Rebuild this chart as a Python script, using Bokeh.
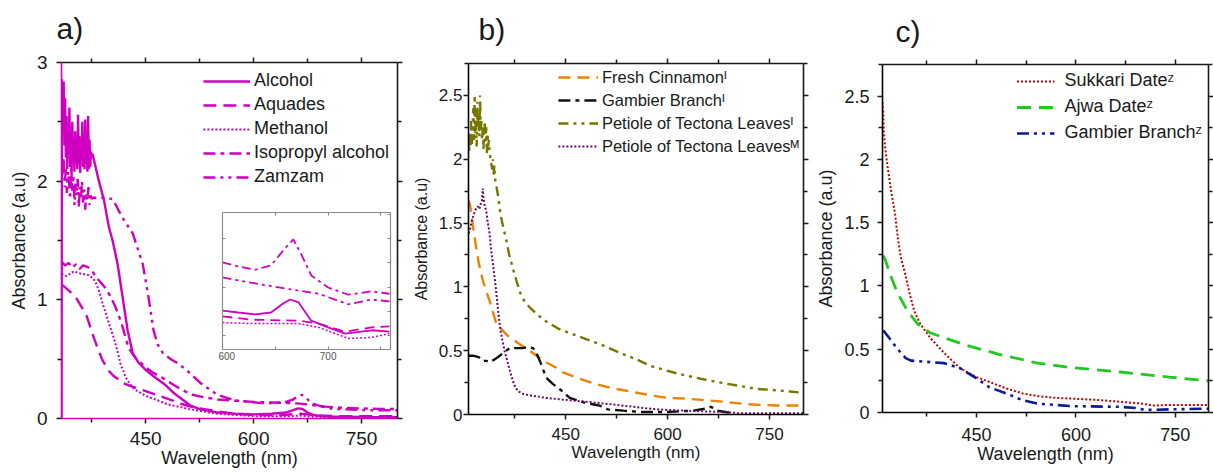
from bokeh.plotting import figure
from bokeh.models import LinearAxis, FixedTicker, CustomJSTickFormatter
from bokeh.embed import file_html
from bokeh.resources import INLINE

FONT = "Liberation Sans"
MAG = "#D000C0"

# ---------------- panel a data ----------------
a_alcohol_nm = [333, 333.5, 335, 336, 337, 338, 339, 340, 341, 342, 343, 344, 345, 346, 347, 348, 349, 350,
                351, 352, 353, 354, 355, 356, 357, 358, 359, 360, 361, 362, 363, 364, 365, 366, 367, 368,
                369, 370, 371, 372, 373, 374, 375, 376,
                378, 385, 392, 399, 404, 411, 418, 425, 432, 440, 450, 460, 478, 490, 501, 512, 525, 550,
                575, 600, 625, 645, 655, 662, 668, 675, 683, 695, 711, 730, 760, 800]
a_alcohol = [0, 2.86, 2.6, 2.84, 2.3, 2.7, 2.2, 2.55, 2.1, 2.45, 2.25, 2.62,
             2.12, 2.4, 2.05, 2.5, 2.18, 2.35, 2.08, 2.42, 2.2, 2.3,
             2.1, 2.56, 2.15, 2.38, 2.07, 2.33, 2.2, 2.5, 2.12, 2.28,
             2.1, 2.52, 2.15, 2.3, 2.08, 2.55, 2.1, 2.35, 2.12, 2.25, 2.2, 2.23,
             2.18, 2.0, 1.84, 1.61, 1.5, 1.3, 1.02, 0.74, 0.55, 0.47, 0.41, 0.36, 0.28, 0.21, 0.16,
             0.11, 0.08, 0.05, 0.04, 0.035, 0.04, 0.05, 0.07, 0.085, 0.08, 0.05, 0.03, 0.02, 0.015,
             0.015, 0.012, 0.012]

a_aquades_nm = [333, 343, 353, 360, 367, 372, 378, 384, 390, 395, 399, 405, 412, 418, 430, 446, 460, 474,
                488, 501, 520, 550, 575, 600, 640, 665, 690, 720, 760, 800]
a_aquades = [1.13, 1.08, 1.02, 0.95, 0.88, 0.79, 0.68, 0.58, 0.49, 0.44, 0.4, 0.36, 0.33, 0.3, 0.27, 0.24,
             0.21, 0.18, 0.15, 0.12, 0.09, 0.06, 0.04, 0.03, 0.03, 0.04, 0.025, 0.02, 0.02, 0.02]

a_methanol_nm = [333, 340, 350, 360, 370, 377, 381, 386, 390, 395, 399, 404, 408, 412, 415, 419, 422, 428,
                 436, 450, 464, 480, 510, 550, 600, 650, 665, 680, 720, 760, 800]
a_methanol = [1.22, 1.2, 1.24, 1.22, 1.21, 1.18, 1.14, 1.06, 0.97, 0.88, 0.8, 0.71, 0.63, 0.54, 0.46, 0.4,
              0.35, 0.29, 0.24, 0.19, 0.16, 0.12, 0.08, 0.04, 0.02, 0.02, 0.025, 0.015, 0.01, 0.01, 0.01]

a_isopropyl_nm = [333, 338, 343, 348, 353, 358, 363, 368, 371, 376, 381, 387, 394, 401, 408, 413, 418, 422,
                  426, 431, 436, 443, 450, 462, 474, 487, 501, 515, 530, 550, 575, 600, 625, 650, 665, 680,
                  700, 725, 750, 775, 800]
a_isopropyl = [1.32, 1.29, 1.31, 1.27, 1.3, 1.26, 1.29, 1.28, 1.27, 1.24, 1.19, 1.15, 1.1, 1.03, 0.94, 0.86,
               0.77, 0.68, 0.6, 0.55, 0.51, 0.47, 0.43, 0.38, 0.34, 0.29, 0.24, 0.2, 0.18, 0.16, 0.15, 0.14,
               0.135, 0.13, 0.125, 0.115, 0.1, 0.09, 0.085, 0.08, 0.08]

a_zamzam_nm = [333, 334.5, 336, 337.5, 339, 340.5, 342, 343.5, 345, 346.5, 348, 349.5, 351, 352.5, 354,
               355.5, 357, 358.5, 360, 361.5, 363, 364.5, 366, 367.5, 369, 370.5, 372, 373.5, 375, 376.5,
               381, 390, 404, 418, 432, 446, 454, 461, 467, 474, 485, 496, 510, 526, 540, 550, 565, 578,
               595, 610, 630, 645, 655, 662, 667, 672, 680, 695, 711, 735, 758, 780, 800]
a_zamzam = [2.15, 2.05, 2.2, 1.95, 2.12, 1.9, 2.08, 2.0, 1.85, 2.1, 1.92, 2.05, 1.8, 1.98, 1.88, 2.02, 1.78,
            1.95, 1.85, 2.0, 1.82, 1.93, 1.76, 1.9, 1.84, 1.95, 1.8, 1.88, 1.85, 1.86,
            1.86, 1.86, 1.85, 1.69, 1.56, 1.3, 1.02, 0.74, 0.62, 0.55, 0.5, 0.46, 0.39, 0.3, 0.24, 0.2,
            0.17, 0.15, 0.14, 0.13, 0.13, 0.14, 0.16, 0.19, 0.2, 0.18, 0.13, 0.1, 0.08, 0.075, 0.07, 0.07,
            0.07]

# inset (600-760 nm zoom of panel a)
in_zamzam_nm = [600, 615, 631, 646, 659, 667, 675, 684, 700, 719, 741, 758]
in_zamzam = [0.201, 0.193, 0.186, 0.195, 0.23, 0.249, 0.216, 0.174, 0.149, 0.134, 0.141, 0.136]
in_isopropyl_nm = [600, 627, 659, 691, 719, 741, 758]
in_isopropyl = [0.17, 0.159, 0.147, 0.136, 0.114, 0.124, 0.12]
in_alcohol_nm = [600, 615, 631, 646, 657, 664, 672, 684, 700, 716, 741, 758]
in_alcohol = [0.101, 0.097, 0.093, 0.097, 0.115, 0.124, 0.118, 0.08, 0.066, 0.053, 0.06, 0.057]
in_aquades_nm = [600, 627, 672, 691, 716, 741, 758]
in_aquades = [0.089, 0.082, 0.08, 0.074, 0.057, 0.066, 0.068]
in_methanol_nm = [600, 627, 672, 691, 719, 741, 758]
in_methanol = [0.076, 0.074, 0.074, 0.066, 0.043, 0.045, 0.053]

# ---------------- panel b data ----------------
b_cinnamon_nm = [307, 309, 313, 317, 322, 328, 333, 338, 343, 347, 352, 357, 364, 372, 385, 397, 410, 421,
                 435, 446, 470, 494, 515, 535, 555, 575, 600, 625, 650, 682, 718, 760, 800]
b_cinnamon = [1.68, 1.65, 1.5, 1.35, 1.19, 1.05, 0.97, 0.89, 0.8, 0.73, 0.69, 0.66, 0.62, 0.59, 0.54, 0.5,
              0.45, 0.41, 0.37, 0.33, 0.28, 0.24, 0.21, 0.19, 0.17, 0.15, 0.13, 0.125, 0.115, 0.1, 0.08,
              0.07, 0.07]

b_gambier_nm = [307, 315, 322, 328, 333, 338, 345, 353, 360, 368, 378, 387, 395, 402, 407, 412, 417, 421,
                431, 441, 456, 468, 479, 490, 500, 512, 535, 560, 600, 638, 655, 663, 668, 673, 685, 697]
b_gambier = [0.46, 0.46, 0.45, 0.42, 0.42, 0.41, 0.43, 0.46, 0.49, 0.52, 0.52, 0.52, 0.53, 0.52, 0.48, 0.42,
             0.35, 0.29, 0.24, 0.2, 0.13, 0.11, 0.09, 0.08, 0.07, 0.04, 0.03, 0.02, 0.02, 0.03, 0.045, 0.06,
             0.05, 0.03, 0.02, 0.01]

b_tectona_i_nm = [307, 308, 309, 310, 311, 312, 313, 314, 315, 316, 317, 318, 319, 320, 321, 322, 323, 324,
                  325, 326, 327, 328, 329, 330, 331, 332, 333, 334, 335, 336, 337, 338,
                  340, 342, 343, 344, 345, 346, 347, 350, 354, 358, 362, 367, 372, 378, 384, 390, 397,
                  409, 421, 440, 460, 480, 501, 531, 555, 575, 595, 615, 632, 649, 668, 688, 710, 732,
                  760, 780, 800]
b_tectona_i = [2.15, 2.05, 2.2, 2.1, 2.3, 2.12, 2.25, 2.4, 2.15, 2.5, 2.2, 2.3, 2.1, 2.45, 2.25, 2.35, 2.18,
               2.5, 2.22, 2.3, 2.15, 2.25, 2.08, 2.2, 2.3, 2.12, 2.25, 2.05, 2.2, 2.1, 2.15, 2.05,
               1.98, 1.92, 2.0, 1.88, 1.95, 1.85, 1.82, 1.73, 1.57, 1.47, 1.38, 1.25, 1.15, 1.04, 0.94,
               0.88, 0.84, 0.78, 0.73, 0.67, 0.63, 0.59, 0.55, 0.48, 0.43, 0.38, 0.35, 0.32, 0.3, 0.28,
               0.26, 0.24, 0.22, 0.2, 0.19, 0.18, 0.17]

b_tectona_m_nm = [307, 309, 311, 313, 315, 317, 319, 321, 323, 325, 327, 328, 329, 331, 333, 335, 338, 340,
                  343, 346, 348, 350, 352, 354, 357, 360, 364, 368, 372, 376, 381, 388, 397, 410, 421, 440,
                  460, 480, 500, 525, 550, 575, 600, 625, 650, 682, 707, 740, 800]
b_tectona_m = [1.42, 1.44, 1.5, 1.54, 1.57, 1.6, 1.62, 1.63, 1.61, 1.65, 1.68, 1.77, 1.7, 1.63, 1.6, 1.52,
               1.42, 1.3, 1.18, 1.05, 0.95, 0.84, 0.75, 0.66, 0.58, 0.5, 0.42, 0.34, 0.27, 0.21, 0.18, 0.16,
               0.15, 0.14, 0.13, 0.12, 0.11, 0.1, 0.09, 0.075, 0.06, 0.045, 0.035, 0.03, 0.025, 0.02, 0.01,
               0.01, 0.01]

# ---------------- panel c data ----------------
c_sukkari_nm = [308, 309, 310, 312, 316, 321, 327, 331, 336, 342, 349, 356, 365, 380, 401, 425, 450, 475,
                495, 520, 542, 570, 593, 630, 667, 700, 716, 741, 770, 800]
c_sukkari = [2.45, 2.38, 2.22, 2.09, 1.93, 1.75, 1.57, 1.38, 1.22, 1.1, 0.94, 0.8, 0.7, 0.59, 0.47, 0.35,
             0.28, 0.23, 0.19, 0.15, 0.13, 0.115, 0.11, 0.1, 0.085, 0.07, 0.055, 0.06, 0.06, 0.06]
c_ajwa_nm = [309, 312, 321, 331, 346, 361, 380, 401, 435, 484, 542, 593, 667, 741, 800]
c_ajwa = [1.24, 1.21, 1.07, 0.94, 0.8, 0.7, 0.63, 0.59, 0.53, 0.46, 0.39, 0.355, 0.32, 0.28, 0.25]
c_gambier_nm = [309, 315, 321, 328, 336, 343, 351, 376, 401, 425, 450, 469, 495, 518, 542, 593, 667, 690,
                705, 741, 800]
c_gambier = [0.65, 0.61, 0.57, 0.52, 0.47, 0.43, 0.41, 0.4, 0.39, 0.35, 0.27, 0.2, 0.15, 0.1, 0.07, 0.05,
             0.045, 0.035, 0.02, 0.025, 0.03]

x_major = [450, 600, 750]
x_minor = [375, 525, 675]
a_y_major = [0, 1, 2, 3]
a_y_minor = [0.5, 1.5, 2.5]
bc_y_major = [0, 0.5, 1.0, 1.5, 2.0, 2.5]
bc_y_minor = [0.25, 0.75, 1.25, 1.75, 2.25, 2.75]

for xs, ys in [(a_alcohol_nm, a_alcohol), (a_aquades_nm, a_aquades), (a_methanol_nm, a_methanol),
               (a_isopropyl_nm, a_isopropyl), (a_zamzam_nm, a_zamzam), (b_cinnamon_nm, b_cinnamon),
               (b_gambier_nm, b_gambier), (b_tectona_i_nm, b_tectona_i), (b_tectona_m_nm, b_tectona_m),
               (c_sukkari_nm, c_sukkari), (c_ajwa_nm, c_ajwa), (c_gambier_nm, c_gambier),
               (in_zamzam_nm, in_zamzam), (in_isopropyl_nm, in_isopropyl), (in_alcohol_nm, in_alcohol),
               (in_aquades_nm, in_aquades), (in_methanol_nm, in_methanol)]:
    assert len(xs) == len(ys), (len(xs), len(ys))


def blank():
    return CustomJSTickFormatter(code="return ''")


H = 471


def make_panel(width, xr, yr, ymaj, ymin, mb_left, mb_right, mb_top, mb_bottom, tick_fs, ylab_fs, xlab_fs,
               ylab_standoff, ylab_title_standoff, xlab_standoff, tag, tag_offset, tag_standoff,
               left_color="black", bottom_color="black"):
    p = figure(width=width, height=H, x_range=xr, y_range=yr, output_backend="svg",
               toolbar_location=None, min_border_left=mb_left, min_border_right=mb_right,
               min_border_top=mb_top, min_border_bottom=mb_bottom, background_fill_color="white",
               border_fill_color="white")
    p.title.text = tag
    p.title.text_font = FONT
    p.title.text_font_size = "30px"
    p.title.text_font_style = "normal"
    p.title.text_color = "#1a1a1a"
    p.title.align = "left"
    p.title.vertical_align = "top"
    p.title.offset = tag_offset
    p.title.standoff = tag_standoff
    p.xgrid.visible = False
    p.ygrid.visible = False
    p.outline_line_color = None
    xb = p.below[0]
    yl = p.left[0]
    xb.ticker = FixedTicker(ticks=x_major, minor_ticks=x_minor)
    yl.ticker = FixedTicker(ticks=ymaj, minor_ticks=ymin)
    top = LinearAxis(ticker=FixedTicker(ticks=x_major, minor_ticks=x_minor),
                     formatter=blank(), major_label_standoff=0)
    right = LinearAxis(ticker=FixedTicker(ticks=ymaj, minor_ticks=ymin),
                       formatter=blank(), major_label_standoff=0)
    p.add_layout(top, "above")
    p.add_layout(right, "right")
    for ax in (xb, yl, top, right):
        ax.major_tick_out = 5
        ax.major_tick_in = 0
        ax.minor_tick_out = 4
        ax.minor_tick_in = 0
        ax.axis_line_width = 1.6
        ax.major_tick_line_width = 1.5
        ax.minor_tick_line_width = 1.5
        ax.axis_line_color = "#1a1a1a"
        ax.major_tick_line_color = "#1a1a1a"
        ax.minor_tick_line_color = "#1a1a1a"
    yl.axis_line_color = left_color
    xb.axis_line_color = bottom_color
    for ax in (xb, yl):
        ax.major_label_text_font = FONT
        ax.major_label_text_font_size = tick_fs
        ax.major_label_text_color = "#1a1a1a"
        ax.axis_label_text_font = FONT
        ax.axis_label_text_font_style = "normal"
        ax.axis_label_text_color = "#1a1a1a"
    xb.axis_label = "Wavelength (nm)"
    xb.axis_label_text_font_size = xlab_fs
    xb.major_label_standoff = xlab_standoff
    xb.axis_label_standoff = 0
    yl.axis_label = "Absorbance (a.u)"
    yl.axis_label_text_font_size = ylab_fs
    yl.major_label_standoff = ylab_standoff
    yl.axis_label_standoff = ylab_title_standoff
    return p


def style_legend(p, fs, glyph_w, standoff, spacing, padding):
    lg = p.legend[0]
    lg.location = "top_right"
    lg.margin = 0
    lg.padding = padding
    lg.spacing = spacing
    lg.label_height = 20
    lg.glyph_height = 20
    lg.glyph_width = glyph_w
    lg.label_standoff = standoff
    lg.label_text_font = FONT
    lg.label_text_font_size = fs
    lg.label_text_color = "#1a1a1a"
    lg.background_fill_alpha = 0
    lg.border_line_alpha = 0


LW = 2.4

# ---------------- panel a ----------------
pa = make_panel(407, (333, 800), (0, 3), a_y_major, a_y_minor, 61, 10, 62, 53, "19px", "18px", "18px",
                9, 5, 8, "a)", -5, 21, left_color=MAG, bottom_color=MAG)
pa.line(a_alcohol_nm, a_alcohol, color=MAG, line_width=LW, legend_label="Alcohol")
pa.line(a_aquades_nm, a_aquades, color=MAG, line_width=LW, line_dash="13 7", legend_label="Aquades")
pa.line(a_methanol_nm, a_methanol, color=MAG, line_width=LW - 0.4, line_dash="2 2", legend_label="Methanol")
pa.line(a_isopropyl_nm, a_isopropyl, color=MAG, line_width=LW, line_dash="12 5 4 5",
        legend_label="Isopropyl alcohol")
pa.line(a_zamzam_nm, a_zamzam, color=MAG, line_width=LW, line_dash="12 5 3 5 3 5", legend_label="Zamzam")
style_legend(pa, "18px", 47, 4, 3, 8)

# inset (its own root, placed over panel a)
ins = figure(frame_width=168, frame_height=137, x_range=(600, 759), y_range=(0.02, 0.305),
             output_backend="svg", toolbar_location=None, min_border_left=4, min_border_right=4,
             min_border_top=4, min_border_bottom=14, background_fill_color="white",
             border_fill_alpha=0)
ins.title.visible = False
ins.xgrid.visible = False
ins.ygrid.visible = False
ins.outline_line_color = None
ins.below[0].ticker = FixedTicker(ticks=[600, 700], minor_ticks=[650, 750])
ins.left[0].ticker = FixedTicker(ticks=[0.05, 0.15, 0.25], minor_ticks=[])
ins.left[0].formatter = blank()
ins.left[0].major_label_standoff = 0
ins_top = LinearAxis(ticker=FixedTicker(ticks=[650, 700, 750], minor_ticks=[]),
                     formatter=blank(), major_label_standoff=0)
ins_right = LinearAxis(ticker=FixedTicker(ticks=[0.05, 0.1, 0.15, 0.2, 0.25, 0.3], minor_ticks=[]),
                       formatter=blank(), major_label_standoff=0)
ins.add_layout(ins_top, "above")
ins.add_layout(ins_right, "right")
for ax in (ins.below[0], ins.left[0], ins_top, ins_right):
    ax.major_tick_in = 3
    ax.major_tick_out = 0
    ax.minor_tick_in = 3
    ax.minor_tick_out = 0
    ax.axis_line_color = "#8a8a8a"
    ax.major_tick_line_color = "#8a8a8a"
    ax.minor_tick_line_color = "#8a8a8a"
    ax.axis_line_width = 1.2
ins.below[0].major_label_text_font = FONT
ins.below[0].major_label_text_font_size = "10px"
ins.below[0].major_label_text_color = "#555555"
ins.below[0].major_label_standoff = 2
LWI = 1.8
ins.line(in_zamzam_nm, in_zamzam, color=MAG, line_width=LWI, line_dash="9 4 3 4")
ins.line(in_isopropyl_nm, in_isopropyl, color=MAG, line_width=LWI, line_dash="9 4 3 4 3 4")
ins.line(in_alcohol_nm, in_alcohol, color=MAG, line_width=LWI)
ins.line(in_aquades_nm, in_aquades, color=MAG, line_width=LWI, line_dash="10 6")
ins.line(in_methanol_nm, in_methanol, color=MAG, line_width=LWI - 0.3, line_dash="2 2")
ins.styles = {"position": "absolute", "left": "218px", "top": "208px", "z-index": "10"}

# ---------------- panel b ----------------
pb = make_panel(406, (307, 800), (0, 2.75), bc_y_major, bc_y_minor, 61, 10, 63, 57, "17px", "16px", "17px",
                1, 6, 8, "b)", 10, 22)
pb.line(b_cinnamon_nm, b_cinnamon, color="#F08000", line_width=LW, line_dash="12 7",
        legend_label="Fresh Cinnamonᴵ")
pb.line(b_gambier_nm, b_gambier, color="#111111", line_width=LW, line_dash="12 5 4 5",
        legend_label="Gambier Branchᴵ")
pb.line(b_tectona_i_nm, b_tectona_i, color="#767600", line_width=LW, line_dash="10 5 3 5 3 5",
        legend_label="Petiole of Tectona Leavesᴵ")
pb.line(b_tectona_m_nm, b_tectona_m, color="#6A0A6A", line_width=LW - 0.4, line_dash="2 2",
        legend_label="Petiole of Tectona Leavesᴹ")
style_legend(pb, "16.5px", 40, 4, 3, 4)
pb.styles = {"position": "absolute", "left": "407px", "top": "0px"}

# ---------------- panel c ----------------
pc = make_panel(400, (308, 800), (0, 2.75), bc_y_major, bc_y_minor, 68, 5, 64, 59, "18px", "18px", "18px",
                8, 5, 10, "c)", 13, 19)
pc.line(c_sukkari_nm, c_sukkari, color="#CC0000", line_width=LW - 0.4, line_dash="2 2",
        legend_label="Sukkari Dateᶻ")
pc.line(c_ajwa_nm, c_ajwa, color="#22C822", line_width=LW + 0.4, line_dash="14 8",
        legend_label="Ajwa Dateᶻ")
pc.line(c_gambier_nm, c_gambier, color="#0A1A9A", line_width=LW + 0.2, line_dash="12 5 3 5 3 5",
        legend_label="Gambier Branchᶻ")
style_legend(pc, "18px", 38, 10, 5, 6)
pc.styles = {"position": "absolute", "left": "813px", "top": "0px"}

open("out.html", "w").write(file_html([pa, pb, pc, ins], INLINE))
